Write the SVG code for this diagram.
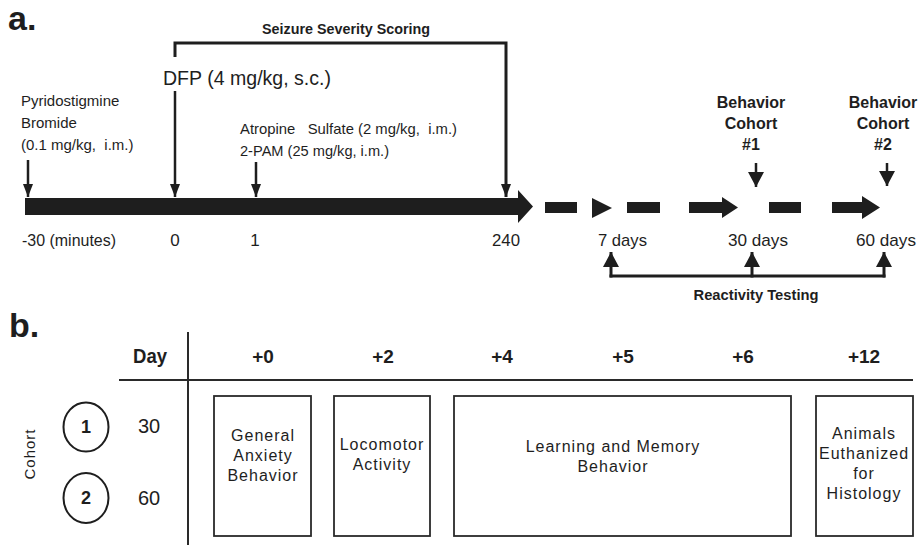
<svg xmlns="http://www.w3.org/2000/svg" width="918" height="545" viewBox="0 0 918 545">
  <style>
    text { font-family: "Liberation Sans", Arial, sans-serif; fill: #1e1e1e; }
    .panel { font-size: 34px; font-weight: bold; }
    .b { font-weight: bold; }
    .lbl { font-size: 15px; }
    .tick { font-size: 17px; }
    .beh { font-size: 16px; font-weight: bold; text-anchor: middle; }
    .hdr { font-size: 19px; font-weight: bold; text-anchor: middle; }
    .box { fill: #fff; stroke: #2a2a2a; stroke-width: 1.8; }
    .boxtxt { font-size: 16px; letter-spacing: 1px; text-anchor: middle; }
    .thin { stroke: #1e1e1e; stroke-width: 2.5; fill: none; }
    .brk { stroke: #1e1e1e; stroke-width: 3; fill: none; }
    .solid { fill: #1e1e1e; }
    .rule { stroke: #2a2a2a; stroke-width: 2; }
  </style>
  <defs>
    <marker id="ah" viewBox="0 0 13 10" refX="13" refY="5" markerWidth="13" markerHeight="10" markerUnits="userSpaceOnUse" orient="auto">
      <path d="M0,0 L13,5 L0,10 Z" fill="#1e1e1e"/>
    </marker>
    <marker id="ahL" viewBox="0 0 15 16" refX="15" refY="8" markerWidth="15" markerHeight="16" markerUnits="userSpaceOnUse" orient="auto">
      <path d="M0,0 L15,8 L0,16 Z" fill="#1e1e1e"/>
    </marker>
  </defs>

  <!-- Panel a: treatment timeline -->
  <text class="panel" x="8" y="30">a.</text>

  <g id="seizure-scoring">
    <text class="b" x="346" y="34" font-size="14" text-anchor="middle" textLength="168" lengthAdjust="spacingAndGlyphs">Seizure Severity Scoring</text>
  </g>

  <g id="dfp">
    <text x="163" y="85" font-size="20" textLength="168" lengthAdjust="spacingAndGlyphs">DFP (4 mg/kg, s.c.)</text>
  </g>

  <g id="pyridostigmine">
    <text class="lbl" x="21" y="106">Pyridostigmine</text>
    <text class="lbl" x="21" y="128">Bromide</text>
    <text class="lbl" x="21" y="150" xml:space="preserve">(0.1 mg/kg,  i.m.)</text>
  </g>

  <g id="atropine">
    <text class="lbl" x="240" y="134" xml:space="preserve" textLength="217" lengthAdjust="spacingAndGlyphs">Atropine   Sulfate (2 mg/kg,  i.m.)</text>
    <text class="lbl" x="240" y="156" textLength="149" lengthAdjust="spacingAndGlyphs">2-PAM (25 mg/kg, i.m.)</text>
  </g>

  <g id="cohort1-marker">
    <text class="beh" x="751" y="108">Behavior</text>
    <text class="beh" x="751" y="129">Cohort</text>
    <text class="beh" x="751" y="150">#1</text>
  </g>

  <g id="cohort2-marker">
    <text class="beh" x="883" y="108">Behavior</text>
    <text class="beh" x="883" y="129">Cohort</text>
    <text class="beh" x="883" y="150">#2</text>
  </g>

  <g id="timeline">
    <!-- acute phase bar, minutes -->
    <path class="solid" d="M25,198 H518 V190 L533,206.5 L518,223 V215 H25 Z"/>
    <!-- broken segments, days -->
    <rect class="solid" x="545" y="202" width="32" height="11"/>
    <path class="solid" d="M592,198 L612,208 L592,218 Z"/>
    <rect class="solid" x="627" y="202" width="33" height="11"/>
    <path class="solid" d="M689,202 H722 V197 L738,207.5 L722,218 V213 H689 Z"/>
    <rect class="solid" x="769" y="202" width="32" height="11"/>
    <path class="solid" d="M832,202 H862 V196 L880,207.5 L862,219 V213 H832 Z"/>
  </g>

  <g id="timepoints">
    <text class="tick" x="22" y="246" textLength="94" lengthAdjust="spacingAndGlyphs">-30 (minutes)</text>
    <text class="tick" x="175" y="246" text-anchor="middle">0</text>
    <text class="tick" x="255" y="246" text-anchor="middle">1</text>
    <text class="tick" x="506" y="246" text-anchor="middle" textLength="28" lengthAdjust="spacingAndGlyphs">240</text>
    <text class="tick" x="598" y="246" textLength="49" lengthAdjust="spacingAndGlyphs">7 days</text>
    <text class="tick" x="728" y="246" textLength="60" lengthAdjust="spacingAndGlyphs">30 days</text>
    <text class="tick" x="856" y="246" textLength="60" lengthAdjust="spacingAndGlyphs">60 days</text>
  </g>

  <g id="reactivity">
    <text class="b" x="756" y="300" font-size="15" text-anchor="middle" textLength="125" lengthAdjust="spacingAndGlyphs">Reactivity Testing</text>
  </g>

  <g id="connectors">
    <!-- seizure scoring bracket ending on 240 min -->
    <path class="brk" d="M175,57 V43 H506 V197" marker-end="url(#ah)"/>
    <line class="thin" x1="28" y1="160" x2="28" y2="197" marker-end="url(#ah)"/>
    <line class="thin" x1="175" y1="91" x2="175" y2="197" marker-end="url(#ah)"/>
    <line class="thin" x1="256" y1="162" x2="256" y2="197" marker-end="url(#ah)"/>
    <!-- behavior cohort pointers -->
    <line class="thin" x1="756" y1="163" x2="756" y2="187" marker-end="url(#ahL)"/>
    <line class="thin" x1="887" y1="163" x2="887" y2="186" marker-end="url(#ahL)"/>
    <!-- reactivity testing bracket -->
    <line class="brk" x1="609.5" y1="276" x2="885.5" y2="276"/>
    <line class="brk" x1="611" y1="277.5" x2="611" y2="252" marker-end="url(#ahL)"/>
    <line class="brk" x1="752" y1="277.5" x2="752" y2="252" marker-end="url(#ahL)"/>
    <line class="brk" x1="884" y1="277.5" x2="884" y2="252" marker-end="url(#ahL)"/>
  </g>

  <!-- Panel b: behavioral testing schedule -->
  <text class="panel" x="9" y="337">b.</text>

  <g id="schedule-grid">
    <line class="rule" x1="188" y1="332" x2="188" y2="545"/>
    <line class="rule" x1="119" y1="380" x2="913" y2="380"/>
  </g>

  <g id="day-header">
    <text class="b" x="133" y="363" font-size="20" textLength="34" lengthAdjust="spacingAndGlyphs">Day</text>
    <text class="hdr" x="263" y="363">+0</text>
    <text class="hdr" x="383" y="363">+2</text>
    <text class="hdr" x="502" y="363">+4</text>
    <text class="hdr" x="623" y="363">+5</text>
    <text class="hdr" x="743" y="363">+6</text>
    <text class="hdr" x="864" y="363">+12</text>
  </g>

  <g id="cohort-label">
    <text x="35" y="454" font-size="15" letter-spacing="1" text-anchor="middle" transform="rotate(-90 35 454)">Cohort</text>
  </g>

  <g id="cohort-1">
    <ellipse cx="86" cy="427" rx="22.5" ry="24.5" fill="#fff" stroke="#1e1e1e" stroke-width="2"/>
    <text class="b" x="86" y="433" font-size="18" text-anchor="middle">1</text>
    <text x="149" y="433" font-size="20" text-anchor="middle">30</text>
  </g>

  <g id="cohort-2">
    <ellipse cx="86" cy="498" rx="22.5" ry="25" fill="#fff" stroke="#1e1e1e" stroke-width="2"/>
    <text class="b" x="86" y="504" font-size="18" text-anchor="middle">2</text>
    <text x="149" y="505" font-size="20" text-anchor="middle">60</text>
  </g>

  <g id="anxiety">
    <rect class="box" x="214" y="396" width="97" height="140"/>
    <text class="boxtxt" x="263" y="441">General</text>
    <text class="boxtxt" x="263" y="461">Anxiety</text>
    <text class="boxtxt" x="263" y="481">Behavior</text>
  </g>

  <g id="locomotor">
    <rect class="box" x="334" y="396" width="96" height="140"/>
    <text class="boxtxt" x="382" y="450">Locomotor</text>
    <text class="boxtxt" x="382" y="470">Activity</text>
  </g>

  <g id="learning-memory">
    <rect class="box" x="454" y="396" width="337" height="140"/>
    <text class="boxtxt" x="613" y="452">Learning and Memory</text>
    <text class="boxtxt" x="613" y="472">Behavior</text>
  </g>

  <g id="histology">
    <rect class="box" x="816" y="396" width="97" height="140"/>
    <text class="boxtxt" x="864" y="439">Animals</text>
    <text class="boxtxt" x="864" y="459">Euthanized</text>
    <text class="boxtxt" x="864" y="479">for</text>
    <text class="boxtxt" x="864" y="499">Histology</text>
  </g>
</svg>
